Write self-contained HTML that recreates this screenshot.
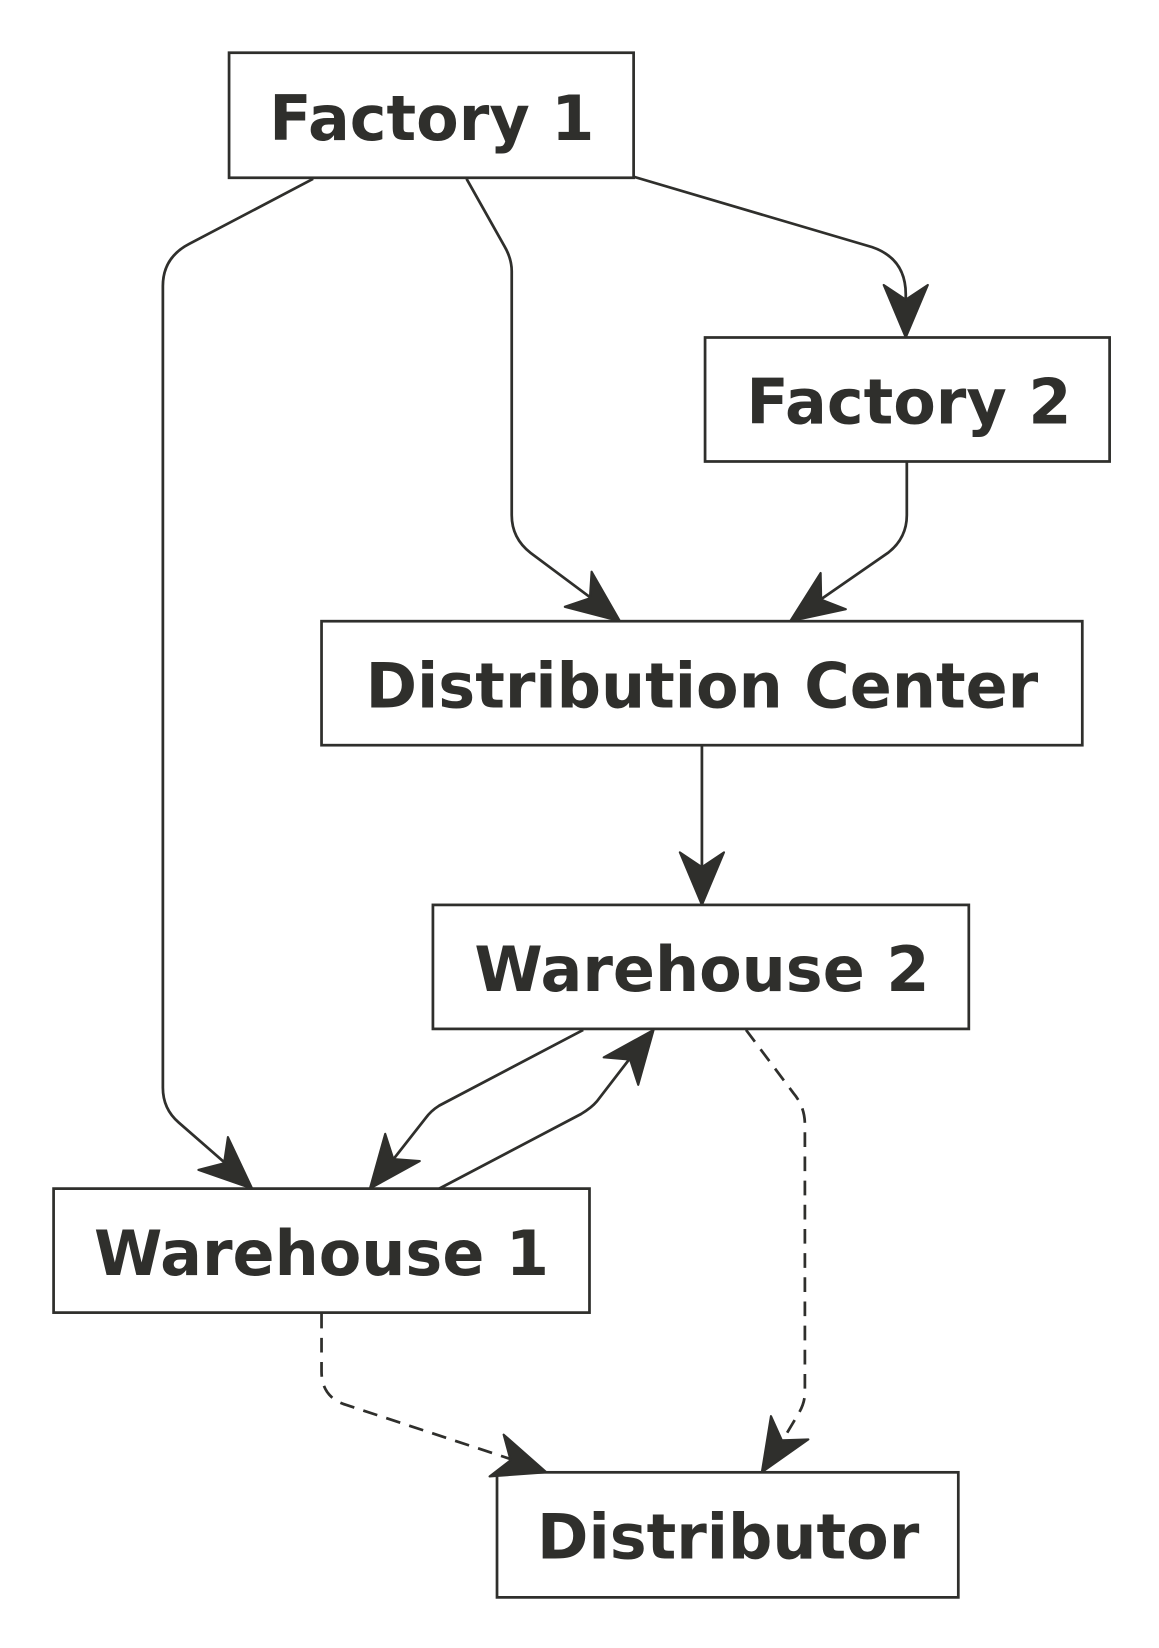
<!DOCTYPE html>
<html><head><meta charset="utf-8"><style>
html,body{margin:0;padding:0;background:#fff;}
svg{display:block}
text{font-family:"DejaVu Sans","Liberation Sans",sans-serif;font-weight:bold;font-size:59px;fill:#2f2f2c;}
</style></head><body>
<svg id="s" width="1159" height="1648" viewBox="0 0 1103 1568" xmlns="http://www.w3.org/2000/svg">
<g fill="#fff" stroke="#2f2f2c" stroke-width="2.6">
<rect x="218" y="50" width="385" height="119"/>
<rect x="671" y="321" width="385" height="118"/>
<rect x="306" y="591" width="724" height="118"/>
<rect x="412" y="861" width="510" height="118"/>
<rect x="51" y="1131" width="510" height="118"/>
<rect x="473" y="1401" width="439" height="119"/>
</g>
<g text-anchor="middle">
<text x="411" y="133">Factory 1</text>
<text x="865" y="403">Factory 2</text>
<text x="668" y="673">Distribution Center</text>
<text x="668" y="943">Warehouse 2</text>
<text x="306" y="1213">Warehouse 1</text>
<text x="693" y="1483">Distributor</text>
</g>
<g fill="none" stroke="#2f2f2c" stroke-width="2.6">
<path d="M298 170 L180 232 Q155 245 155 272 L155 1035 Q155 1055 170 1068 L225 1116"/>
<path d="M444 170 L480 234 Q487 246 487 258 L487 490 Q487 512 505 526 L572 576"/>
<path d="M603 168 L830 235 Q862 246 862 280 L862 306"/>
<path d="M863 440 L863 490 Q863 512 845 526 L770 578"/>
<path d="M668 710 L668 845"/>
<path d="M555 980 L418 1052 Q410 1057 405 1064 L365 1115"/>
<path d="M418 1131 L553 1060 Q563 1054 568 1048 L608 996"/>
<path d="M710 980 L755 1040 Q766 1053 766 1070 L766 1325 Q766 1335 760 1345 L738 1382" stroke-dasharray="14,9"/>
<path d="M306 1250 L306 1305 Q306 1330 330 1337 L500 1393" stroke-dasharray="14,9"/>
</g>
<g id="arr" fill="#2f2f2c" stroke="#2f2f2c" stroke-width="2" stroke-linejoin="round"></g>
</svg>
<script>
var A=[[170,1068,240,1131],[505,526,590,591],[862,280,862,321],[845,526,752,591],[668,800,668,861],[405,1064,352,1131],[568,1048,622,980],[760,1345,725,1401],[330,1337,520,1401]];
var g=document.getElementById('arr'),h='';
A.forEach(function(a){var dx=a[2]-a[0],dy=a[3]-a[1],l=Math.hypot(dx,dy),ux=dx/l,uy=dy/l,px=-uy,py=ux,tx=a[2],ty=a[3];
var L=50,W=21,N=36;
var p=[[tx,ty],[tx-ux*L+px*W,ty-uy*L+py*W],[tx-ux*N,ty-uy*N],[tx-ux*L-px*W,ty-uy*L-py*W]];
h+='<polygon points="'+p.map(function(q){return q[0].toFixed(1)+','+q[1].toFixed(1)}).join(' ')+'"/>';});
g.innerHTML=h;
</script>
</body></html>
